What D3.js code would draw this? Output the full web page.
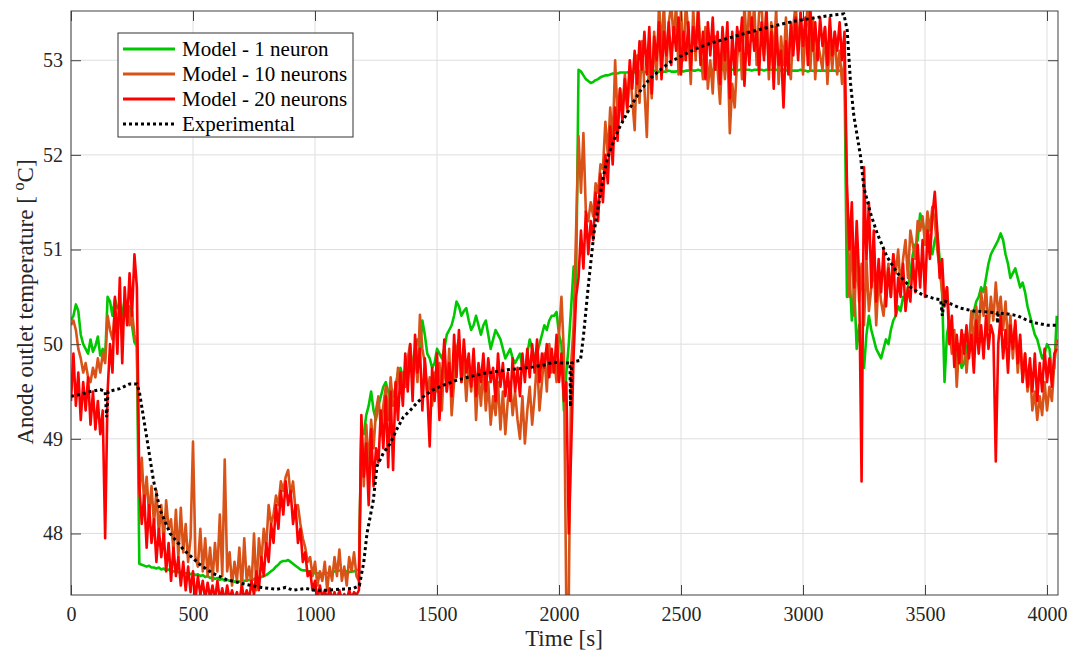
<!DOCTYPE html>
<html><head><meta charset="utf-8">
<script src="https://cdn.jsdelivr.net/npm/d3@7"></script>
<style>body{margin:0;background:#fff}</style>
</head><body>
<svg id="chart" width="1074" height="657"></svg>
<script>
// Sampling interval of the model series (s): t = 0, 10, ..., 4040
const sampleStep = 10;

// Model - 1 neuron
const model1 = [
50.25,50.3,50.42,50.35,50.1,50.0,49.95,49.9,50.05,49.92,
49.98,50.08,49.88,49.95,49.85,50.5,50.45,50.3,50.48,50.38,
50.42,50.3,50.48,50.35,50.4,50.2,50.02,49.98,
47.68,47.67,47.66,47.65,47.66,47.64,47.64,47.63,47.64,47.62,
47.63,47.61,47.62,47.6,47.6,47.6,47.59,47.59,47.58,47.58,
47.58,47.57,47.58,47.56,47.57,47.55,47.56,47.54,47.55,47.53,
47.54,47.52,47.53,47.51,47.52,47.5,47.51,47.5,47.5,47.49,
47.5,47.49,47.5,47.5,47.5,47.51,47.5,47.52,47.52,47.53,
47.54,47.55,47.56,47.58,47.6,47.62,47.65,47.67,47.7,47.71,
47.71,47.72,47.7,47.68,47.66,47.64,47.62,47.61,47.61,47.6,
47.6,47.59,47.58,47.58,47.58,47.57,47.58,47.58,47.59,47.59,
47.6,47.6,47.61,47.6,47.6,47.6,47.59,47.6,47.6,47.61,
47.62,
49.1,49.05,49.25,49.35,49.5,49.3,49.2,49.35,49.45,49.55,
49.6,49.5,49.4,49.45,49.55,49.7,49.75,49.65,49.6,49.7,
49.85,49.8,49.95,50.05,49.95,50.25,50.1,49.9,49.85,49.75,
49.8,49.95,49.9,49.85,49.95,50.1,50.15,50.2,50.3,50.45,
50.4,50.3,50.35,50.38,50.25,50.15,50.2,50.3,50.2,50.1,
50.2,50.25,50.1,49.95,50.05,50.15,50.1,50.05,49.95,49.85,
49.9,49.95,49.85,49.8,49.85,49.9,49.75,49.7,49.9,50.05,
49.95,49.85,49.9,50.0,50.1,50.2,50.15,50.25,50.3,50.3,
50.34,50.1,50.0,49.3,49.7,50.0,50.4,50.82,50.6,
52.9,52.88,52.84,52.8,52.78,52.76,52.77,52.79,52.8,52.82,
52.83,52.84,52.84,52.85,52.86,52.86,52.86,52.87,52.87,52.87,
52.87,52.88,52.88,52.87,52.88,52.88,52.88,52.87,52.88,52.88,
52.88,52.89,52.88,52.88,52.87,52.88,52.88,52.89,52.88,52.88,
52.88,52.89,52.89,52.88,52.89,52.89,52.9,52.89,52.89,52.9,
52.89,52.89,52.9,52.9,52.89,52.9,52.9,52.9,52.89,52.9,
52.9,52.9,52.91,52.9,52.9,52.89,52.9,52.9,52.9,52.9,
52.9,52.89,52.9,52.9,52.9,52.9,52.89,52.9,52.9,52.9,
52.9,52.9,52.89,52.89,52.9,52.89,52.9,52.89,52.89,52.89,
52.89,52.9,52.89,52.89,52.88,52.89,52.89,52.88,52.89,52.89,
52.89,52.89,52.88,52.89,52.89,52.89,52.88,52.89,52.89,52.89,
50.5,50.8,50.25,50.6,49.95,50.2,49.8,49.75,50.1,50.3,
50.15,50.05,49.95,49.9,49.85,49.95,50.05,50.0,50.15,50.25,
50.3,50.4,50.35,50.5,50.45,50.6,50.75,50.95,51.05,51.1,
51.38,51.3,51.15,51.25,51.05,50.95,51.1,51.18,50.9,50.55,
49.6,50.1,50.25,50.05,49.95,49.85,49.9,49.75,49.8,49.95,
50.05,50.2,50.35,50.45,50.5,50.6,50.55,50.7,50.85,50.95,
51.0,51.05,51.1,51.17,51.1,50.95,50.85,50.7,50.75,50.8,
50.7,50.6,50.65,50.55,50.4,50.3,50.2,50.1,50.05,49.95,
49.85,49.9,50.0,49.95,49.7,49.75,50.3
];

// Model - 10 neurons
const model10 = [
50.2,50.25,50.15,49.95,49.85,49.7,49.8,49.65,49.6,49.75,
49.65,49.85,49.7,49.9,49.8,50.3,50.15,50.05,50.35,50.1,
50.4,50.2,50.3,50.45,50.2,50.35,50.1,50.0,
48.4,48.8,48.3,48.6,48.2,48.5,48.1,48.45,48.0,48.3,
47.9,48.35,48.05,48.15,47.8,48.25,47.75,48.27,47.8,48.1,
47.7,47.95,48.97,47.75,47.65,48.05,47.6,47.95,47.55,47.85,
47.5,47.9,47.6,48.2,47.55,48.78,47.6,47.8,47.45,47.7,
47.5,47.85,47.4,47.95,47.5,47.65,47.45,48.0,47.4,47.95,
47.7,48.05,47.85,48.3,48.1,48.2,48.4,48.3,48.55,48.45,
48.6,48.67,48.4,48.55,48.25,48.3,48.1,47.95,47.85,47.7,
47.75,47.55,47.7,47.45,47.6,47.5,47.7,47.4,47.65,47.5,
47.75,47.55,47.83,47.5,47.65,47.45,47.75,47.6,47.8,47.55,
47.5,
49.1,48.5,49.15,48.7,49.2,48.9,49.3,49.45,49.1,49.35,
49.55,49.2,49.65,49.35,49.4,49.75,49.5,49.7,49.55,49.85,
50.0,49.7,49.9,49.6,50.31,49.95,49.8,49.45,49.65,49.35,
49.7,49.5,49.8,49.3,49.9,49.5,49.95,49.25,49.6,49.95,
50.05,49.6,49.85,49.4,49.8,49.5,49.9,49.2,49.7,49.35,
49.75,49.3,49.6,49.15,49.45,49.25,49.6,49.1,49.5,49.05,
49.4,49.6,49.25,49.5,49.2,49.0,49.45,48.95,49.3,49.55,
49.15,49.45,49.85,49.3,49.6,49.9,49.5,50.0,49.7,49.85,
49.6,50.1,50.5,49.9,47.2,47.3,49.8,50.2,51.2,
52.2,51.6,52.23,51.4,51.3,51.5,51.35,51.7,51.6,51.9,
51.85,52.35,52.0,52.5,52.1,53.0,52.4,52.7,52.5,52.85,
52.45,52.9,52.6,52.26,53.05,52.55,53.2,52.7,52.19,53.1,
52.6,53.3,52.8,53.6,53.1,53.6,52.9,53.4,53.6,53.2,
53.6,52.85,53.55,53.0,53.6,53.3,52.75,53.55,53.0,53.6,
53.1,52.8,53.35,52.7,53.0,52.65,53.25,52.9,52.54,53.15,
52.8,53.2,52.23,52.75,52.5,53.0,53.3,52.8,53.6,53.1,
53.6,53.2,53.6,52.95,53.5,53.6,53.05,53.6,52.8,53.4,
53.0,53.55,52.75,53.25,52.95,53.45,53.0,52.8,53.35,53.6,
53.1,53.5,52.85,53.3,53.6,52.9,53.45,52.8,53.2,53.05,
52.9,53.35,52.75,53.2,52.9,53.3,52.85,53.1,52.75,53.0,
51.5,50.5,51.2,50.3,51.0,50.45,50.85,50.2,50.9,50.35,
50.6,50.9,50.2,50.7,50.45,50.3,50.6,50.85,50.5,50.95,
50.75,51.0,50.6,50.9,51.1,50.7,51.2,51.05,50.9,51.3,
51.2,51.35,51.05,51.4,51.2,51.45,51.3,51.0,50.8,50.55,
50.4,50.6,50.2,49.9,50.15,49.55,50.0,49.8,50.1,49.7,
50.0,50.35,49.95,50.4,50.1,50.55,50.3,50.6,50.15,50.5,
50.25,50.65,50.3,50.5,50.15,50.45,50.0,50.3,49.85,50.2,
49.7,50.05,49.6,49.9,49.5,49.75,49.3,49.5,49.2,49.45,
49.25,49.6,49.3,49.55,49.4,49.8,50.05
];

// Model - 20 neurons
const model20 = [
49.4,49.9,49.35,49.7,49.2,49.6,49.3,49.65,49.15,49.5,
49.1,49.4,49.05,49.3,47.95,49.5,50.0,49.7,50.5,49.9,
50.7,49.8,50.6,50.2,50.75,50.3,50.95,50.6,
48.5,48.1,48.4,47.85,48.3,47.9,48.15,47.7,48.05,47.75,
48.0,47.6,47.9,47.5,47.85,47.55,47.75,47.45,47.7,47.4,
47.65,47.38,47.6,47.3,47.55,47.35,47.5,47.3,47.48,47.32,
47.45,47.3,47.5,47.3,47.42,47.28,47.45,47.3,47.4,47.3,
47.38,47.28,47.45,47.3,47.4,47.3,47.5,47.35,47.6,47.4,
47.75,47.55,47.9,47.7,48.1,47.9,48.3,48.05,48.45,48.2,
48.55,48.3,48.45,48.1,48.3,47.9,48.05,47.7,47.8,47.55,
47.6,47.4,47.5,47.3,47.45,47.32,47.4,47.3,47.42,47.3,
47.38,47.3,47.4,47.3,47.36,47.3,47.4,47.32,47.38,47.35,
47.4,
49.25,48.6,48.95,48.3,49.1,48.5,48.9,48.75,49.3,48.9,
49.45,48.7,49.5,48.67,49.6,49.2,49.7,49.35,49.9,49.5,
50.0,49.4,50.1,49.7,49.95,49.3,49.85,49.5,48.92,49.75,
49.4,49.9,49.2,49.65,50.05,49.5,49.8,49.45,50.1,49.65,
50.15,49.6,50.05,49.7,49.9,49.55,49.95,49.45,49.8,49.6,
49.9,49.5,49.85,49.6,49.75,49.4,49.9,49.55,49.8,49.45,
49.7,49.4,49.85,49.5,49.75,49.45,49.9,49.6,49.95,49.65,
50.0,49.7,50.05,49.6,49.9,49.75,50.0,49.65,49.95,49.7,
50.1,49.6,49.9,49.4,49.6,48.0,48.9,49.9,50.5,
50.7,51.2,50.8,51.4,50.95,51.3,51.1,51.6,51.3,51.8,
51.5,52.0,51.7,52.3,51.9,52.5,52.15,52.7,52.35,52.8,
52.5,53.0,52.7,53.1,52.75,53.2,52.9,53.3,52.85,53.35,
52.65,53.25,53.0,53.4,52.8,53.3,53.05,53.4,52.95,53.35,
53.1,53.45,52.85,53.3,53.0,53.4,52.9,53.35,53.1,53.5,
52.95,53.3,52.8,53.4,53.05,53.45,52.9,53.3,52.75,53.35,
53.0,53.4,52.6,53.3,52.85,53.35,53.1,53.45,52.73,53.3,
52.95,53.45,53.1,53.3,52.85,53.4,53.0,53.5,52.9,53.3,
52.7,53.35,52.95,53.1,52.5,53.2,52.85,53.4,53.05,53.45,
53.0,53.5,53.15,53.45,52.95,53.55,53.1,53.4,53.0,53.45,
53.15,53.35,52.95,53.45,53.05,53.3,53.1,53.4,53.0,53.3,
51.7,51.0,51.5,50.6,51.3,50.7,48.55,51.87,50.9,51.5,
50.6,51.2,50.45,50.9,50.55,51.0,50.4,50.8,50.5,50.95,
50.3,50.7,50.5,50.85,50.35,50.6,50.45,50.9,50.55,51.05,
50.6,51.1,50.5,51.2,50.9,51.35,51.61,51.2,50.7,50.9,
50.4,50.6,50.0,50.3,49.76,50.1,49.8,50.15,49.9,50.2,
49.85,50.1,49.7,50.25,49.9,50.2,49.85,50.3,49.95,50.2,
50.1,48.76,50.0,50.3,49.85,50.15,49.7,50.2,49.95,50.25,
49.8,50.1,49.6,49.9,49.55,49.85,49.5,49.9,49.4,49.8,
49.5,49.95,49.6,49.85,49.55,49.9,49.95
];

// Experimental measurement
const expTime = [0,40,80,120,140,146,152,200,240,270,280,310,338,365,406,461,529,580,639,721,780,844,880,911,960,1000,1049,1100,1157,1182,1200,1213,1239,1254,1280,1308,1335,1362,1390,1418,1450,1486,1530,1582,1640,1690,1740,1787,1840,1895,1940,1977,2020,2045,2047,2052,2070,2088,2100,2121,2143,2165,2184,2200,2224,2250,2279,2305,2334,2370,2416,2455,2498,2560,2621,2690,2757,2830,2894,2960,3031,3100,3167,3181,3195,3208,3222,3236,3249,3277,3304,3345,3387,3441,3490,3540,3564,3571,3578,3610,3646,3700,3756,3795,3797,3800,3838,3880,3920,3960,4002,4044];
const expTemp = [49.45,49.47,49.5,49.52,49.5,49.23,49.5,49.53,49.58,49.58,49.5,49.02,48.56,48.25,48.0,47.83,47.67,47.58,47.51,47.46,47.43,47.41,47.43,47.4,47.42,47.4,47.4,47.41,47.42,47.45,47.7,48.0,48.35,48.71,48.85,48.95,49.1,49.23,49.3,49.38,49.46,49.52,49.57,49.62,49.66,49.69,49.71,49.73,49.74,49.76,49.78,49.81,49.8,49.8,49.34,49.8,49.82,49.83,50.08,50.64,51.17,51.52,51.8,51.98,52.15,52.3,52.44,52.56,52.68,52.8,52.9,52.98,53.04,53.12,53.18,53.23,53.28,53.33,53.37,53.41,53.44,53.47,53.49,53.32,52.75,52.42,52.2,51.98,51.66,51.38,51.17,50.92,50.75,50.6,50.52,50.48,50.47,50.3,50.46,50.42,50.38,50.35,50.34,50.33,50.22,50.33,50.32,50.3,50.25,50.22,50.2,50.2];

const xTicks = [0,500,1000,1500,2000,2500,3000,3500,4000];
const yTicks = [48,49,50,51,52,53];
const seriesNames = ["Model - 1 neuron","Model - 10 neurons","Model - 20 neurons","Experimental"];
const seriesColors = ["#00c800","#d95319","#ff0000","#000000"];

const svg = d3.select("#chart");
const L = 71, R = 1058, T = 11, B = 595;
const x = d3.scaleLinear().domain([0, 4045]).range([L, R]);
const y = d3.scaleLinear().domain([47.35, 53.52]).range([B, T]);
const font = "'Liberation Serif','Times New Roman',serif";
const textColor = "#262626";

// grid
const grid = svg.append("g").attr("stroke", "#dedede").attr("stroke-width", 1);
xTicks.forEach(v => grid.append("line").attr("x1", x(v)).attr("x2", x(v)).attr("y1", T).attr("y2", B));
yTicks.forEach(v => grid.append("line").attr("x1", L).attr("x2", R).attr("y1", y(v)).attr("y2", y(v)));

svg.append("defs").append("clipPath").attr("id", "clip")
  .append("rect").attr("x", L).attr("y", T).attr("width", R - L).attr("height", B - T);

const plot = svg.append("g").attr("clip-path", "url(#clip)");
const line = d3.line().x(d => x(d[0])).y(d => y(d[1]));
const toPts = arr => arr.map((v, i) => [i * sampleStep, v]);

[model1, model10, model20].forEach((s, k) => {
  plot.append("path").datum(toPts(s))
    .attr("fill", "none").attr("stroke", seriesColors[k])
    .attr("stroke-width", 2.6).attr("stroke-linejoin", "round")
    .attr("d", line);
});
plot.append("path").datum(expTime.map((t, i) => [t, expTemp[i]]))
  .attr("fill", "none").attr("stroke", "#000").attr("stroke-width", 3)
  .attr("stroke-dasharray", "3,3").attr("d", line);

// axes (ticks inward, box)
const axColor = "#404040";
function styleAxis(g, labels) {
  g.select(".domain").remove();
  g.selectAll(".tick line").attr("stroke", axColor);
  if (labels) g.selectAll(".tick text").attr("font-family", font).attr("font-size", 20).attr("fill", textColor);
  else g.selectAll(".tick text").remove();
}
svg.append("g").attr("transform", `translate(0,${B})`)
  .call(d3.axisBottom(x).tickValues(xTicks).tickSizeInner(-10).tickSizeOuter(0).tickPadding(12).tickFormat(d3.format("d")))
  .call(g => styleAxis(g, true));
svg.append("g").attr("transform", `translate(0,${T})`)
  .call(d3.axisTop(x).tickValues(xTicks).tickSizeInner(-10).tickSizeOuter(0))
  .call(g => styleAxis(g, false));
svg.append("g").attr("transform", `translate(${L},0)`)
  .call(d3.axisLeft(y).tickValues(yTicks).tickSizeInner(-10).tickSizeOuter(0).tickPadding(8).tickFormat(d3.format("d")))
  .call(g => styleAxis(g, true));
svg.append("g").attr("transform", `translate(${R},0)`)
  .call(d3.axisRight(y).tickValues(yTicks).tickSizeInner(-10).tickSizeOuter(0))
  .call(g => styleAxis(g, false));
svg.append("rect").attr("x", L).attr("y", T).attr("width", R - L).attr("height", B - T)
  .attr("fill", "none").attr("stroke", axColor).attr("stroke-width", 1);

// axis titles
svg.append("text").attr("x", 564).attr("y", 646).attr("text-anchor", "middle")
  .attr("font-family", font).attr("font-size", 23).attr("fill", textColor).text("Time [s]");
const yt = svg.append("text").attr("transform", "translate(33,302) rotate(-90)").attr("text-anchor", "middle")
  .attr("font-family", font).attr("font-size", 23).attr("fill", textColor);
yt.append("tspan").text("Anode outlet temperature [ ");
yt.append("tspan").attr("font-size", 16).attr("dy", -9).text("o");
yt.append("tspan").attr("dy", 9).text("C]");

// legend
const lg = svg.append("g");
lg.append("rect").attr("x", 118).attr("y", 33).attr("width", 235).attr("height", 104)
  .attr("fill", "#fff").attr("stroke", "#333").attr("stroke-width", 1);
seriesNames.forEach((name, i) => {
  const yy = 49 + i * 25;
  lg.append("line").attr("x1", 123).attr("x2", 175).attr("y1", yy).attr("y2", yy)
    .attr("stroke", seriesColors[i]).attr("stroke-width", 3)
    .attr("stroke-dasharray", i === 3 ? "3,3" : null);
  lg.append("text").attr("x", 182).attr("y", yy + 7).attr("font-family", font)
    .attr("font-size", 21).attr("fill", "#000").text(name);
});
</script>
</body></html>
